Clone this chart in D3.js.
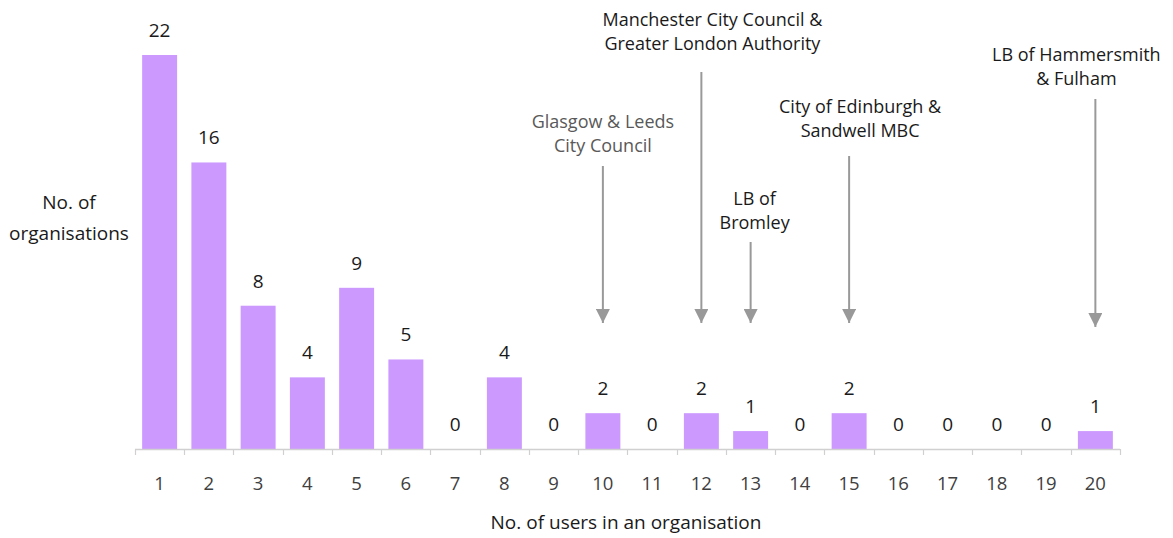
<!DOCTYPE html>
<html>
<head>
<meta charset="utf-8">
<script src="https://cdn.jsdelivr.net/npm/d3@7"></script>
<style>
  body { margin: 0; background: #fff; }
  text { font-family: "Open Sans", "Noto Sans", sans-serif; }
</style>
</head>
<body>
<div id="chart"></div>
<script>
var categories = ["1","2","3","4","5","6","7","8","9","10","11","12","13","14","15","16","17","18","19","20"];
var counts = [22,16,8,4,9,5,0,4,0,2,0,2,1,0,2,0,0,0,0,1];

// callouts: which category they point at, label lines
var calloutCats = ["10","12","13","15","20"];
var calloutLines = [
  ["Glasgow & Leeds", "City Council"],
  ["Manchester City Council &", "Greater London Authority"],
  ["LB of", "Bromley"],
  ["City of Edinburgh &", "Sandwell MBC"],
  ["LB of Hammersmith", "& Fulham"]
];

var w = 1173, h = 538;
var svg = d3.select("#chart").append("svg")
  .attr("width", w).attr("height", h);

var x = d3.scaleBand().domain(categories).range([135, 1120]).paddingInner(0.29).paddingOuter(0.145);
var y = d3.scaleLinear().domain([0, 22]).range([449, 55]);

// bars
svg.selectAll("rect.bar")
  .data(counts)
  .enter().append("rect")
  .attr("class", "bar")
  .attr("x", (d, i) => x(categories[i]))
  .attr("width", x.bandwidth())
  .attr("y", d => y(d))
  .attr("height", d => y(0) - y(d))
  .style("fill", "#cc99ff");

// value labels
svg.selectAll("text.val")
  .data(counts)
  .enter().append("text")
  .attr("class", "val")
  .attr("x", (d, i) => x(categories[i]) + x.bandwidth() / 2)
  .attr("y", d => y(d) - 18)
  .attr("text-anchor", "middle")
  .style("font-size", "19px")
  .style("fill", "#1a1a1a")
  .text(d => d);

// x axis: line with ticks at band edges
var axis = svg.append("g");
axis.append("line")
  .attr("x1", 135).attr("x2", 1120)
  .attr("y1", 449.5).attr("y2", 449.5)
  .style("stroke", "#d0d0d0").style("stroke-width", 1.5);
var edges = categories.map(c => x(c) - x.step() * x.paddingInner() / 2);
edges.push(1120);
axis.selectAll("line.tk")
  .data(edges)
  .enter().append("line")
  .attr("class", "tk")
  .attr("x1", d => Math.round(d) + 0.5).attr("x2", d => Math.round(d) + 0.5)
  .attr("y1", 449).attr("y2", 455)
  .style("stroke", "#d0d0d0").style("stroke-width", 1.2);
axis.selectAll("text")
  .data(categories)
  .enter().append("text")
  .attr("x", d => x(d) + x.bandwidth() / 2)
  .attr("y", 490)
  .attr("text-anchor", "middle")
  .style("font-size", "18.5px")
  .style("fill", "#404040")
  .text(d => d);

// axis titles
svg.append("text")
  .attr("x", 626).attr("y", 529)
  .attr("text-anchor", "middle")
  .style("font-size", "19px").style("fill", "#1a1a1a")
  .text("No. of users in an organisation");

var yt = svg.append("text")
  .attr("text-anchor", "middle")
  .style("font-size", "19px").style("fill", "#1a1a1a");
yt.append("tspan").attr("x", 69).attr("y", 209).text("No. of");
yt.append("tspan").attr("x", 69).attr("y", 240).text("organisations");

// callouts
var labelTop = [128, 26, 205, 113, 61];
var lineTop = [166, 72, 242, 156, 99];
var labelDx = [0, 11, 4, 11, -19];
var tipY = [323, 323, 323, 323, 327];

var defs = svg.append("defs");
defs.append("marker")
  .attr("id", "arr")
  .attr("viewBox", "0 0 10 10")
  .attr("refX", 10).attr("refY", 5)
  .attr("markerWidth", 7).attr("markerHeight", 7)
  .attr("markerUnits", "strokeWidth")
  .attr("orient", "auto")
  .append("path").attr("d", "M0,0 L10,5 L0,10 z")
  .style("fill", "#999");

calloutCats.forEach(function(c, i) {
  var cx = x(c) + x.bandwidth() / 2;
  svg.append("line")
    .attr("x1", cx).attr("x2", cx)
    .attr("y1", lineTop[i]).attr("y2", tipY[i])
    .style("stroke", "#999").style("stroke-width", 2)
    .attr("marker-end", "url(#arr)");
  var t = svg.append("text")
    .attr("text-anchor", "middle")
    .style("font-size", "18px")
    .style("fill", i == 0 ? "#595959" : "#1a1a1a");
  calloutLines[i].forEach(function(s, j) {
    t.append("tspan").attr("x", cx + labelDx[i]).attr("y", labelTop[i] + j * 23.5).text(s);
  });
});
</script>
</body>
</html>
